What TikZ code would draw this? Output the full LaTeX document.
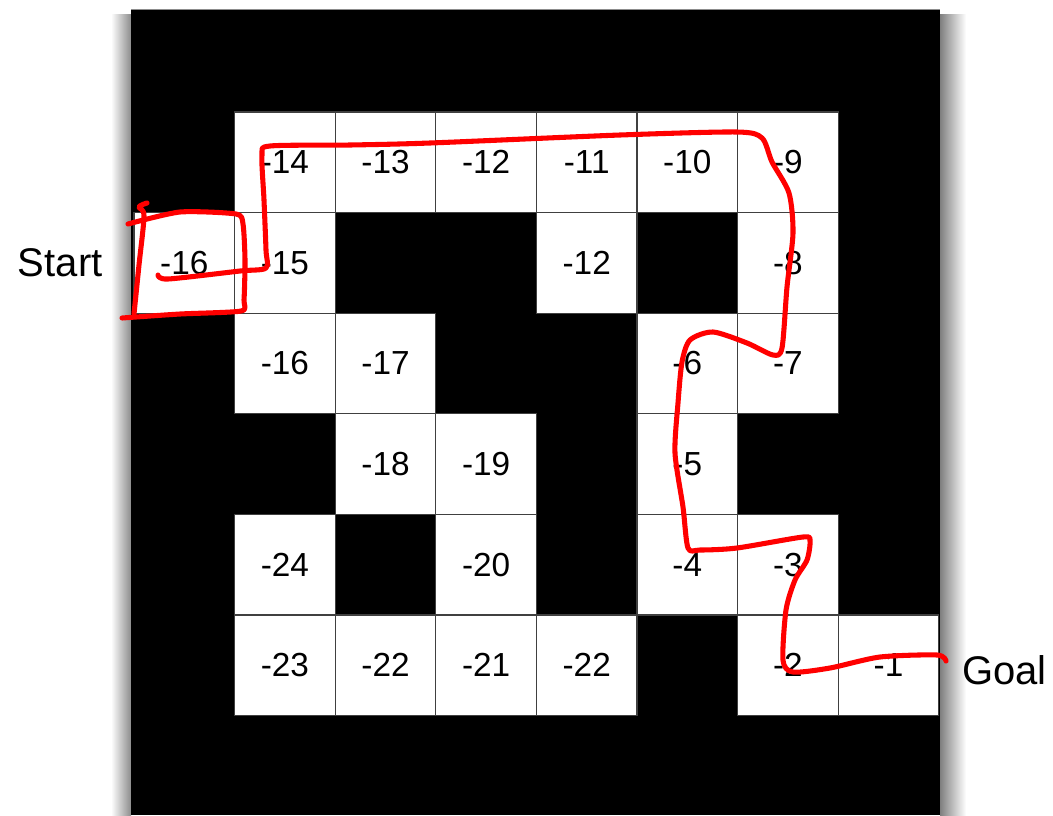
\documentclass[tikz,border=0pt]{standalone}
\usepackage{fontspec}
\setmainfont{Liberation Sans}
\usetikzlibrary{positioning}
\tikzset{
  cell/.style={draw=black!75, line width=0.9pt, fill=white, minimum size=75.45pt,
    inner sep=0pt, font=\fontsize{25}{25}\selectfont},
  sidetext/.style={inner sep=0pt, font=\fontsize{30}{30}\selectfont},
  scribble/.style={red, line width=3.8pt, line cap=round, line join=round}
}

\begin{document}
\begin{tikzpicture}[x=0.75pt,y=-0.75pt]
  \useasboundingbox (0,0) rectangle (1053,815);
  % board with its shadow
  \shade[left color=white, right color=black!45] (111,14) rectangle (131,815);
  \shade[left color=black!50, right color=white] (940,14) rectangle (966,815);
  \fill[black] (131,9) rectangle (940,815);
  \draw[black!45, line width=0.6pt] (131,9) -- (940,9);
  % free cells: column/row/value
  \foreach \c/\r/\v in {1/1/-14, 2/1/-13, 3/1/-12, 4/1/-11, 5/1/-10, 6/1/-9,
      0/2/-16, 1/2/-15, 4/2/-12, 6/2/-8,
      1/3/-16, 2/3/-17, 5/3/-6, 6/3/-7,
      2/4/-18, 3/4/-19, 5/4/-5,
      1/5/-24, 3/5/-20, 5/5/-4, 6/5/-3,
      1/6/-23, 2/6/-22, 3/6/-21, 4/6/-22, 6/6/-2, 7/6/-1}
    \node[cell] (c\c\r) at ({184.3+100.6*\c},{61.7+100.6*\r}) {\v};
  \node[sidetext, left=23pt of c02] (start) {Start};
  \node[sidetext, right=17pt of c76, yshift=-4pt] (goal) {Goal};
  % hand-drawn route
  \draw[scribble] plot[smooth, tension=0.5] coordinates {(147,203) (139,207) (144,216) (139,265) (134,314)};
  \draw[scribble] plot[smooth, tension=0.4] coordinates {(122,318) (180,314) (241,311) (244,300)
      (245,260) (243,224) (236,214) (180,212) (128,224)};
  \draw[scribble] plot[smooth, tension=0.45] coordinates {(158,275) (168,279) (240,271) (266,268)
      (266,250) (264,200) (262,155) (270,146) (350,145) (430,143) (620,135) (737,132)
      (762,138) (772,162) (789,193) (793,233) (787,287) (782,348) (773,355) (747,343)
      (713,332) (690,340) (682,362) (678,403) (675,453) (683,507) (688,548) (700,550)
      (737,548) (803,537) (810,541) (807,560) (795,580) (786,610) (783,660) (793,672)
      (830,668) (880,657) (937,655) (946,661)};
\end{tikzpicture}
\end{document}
